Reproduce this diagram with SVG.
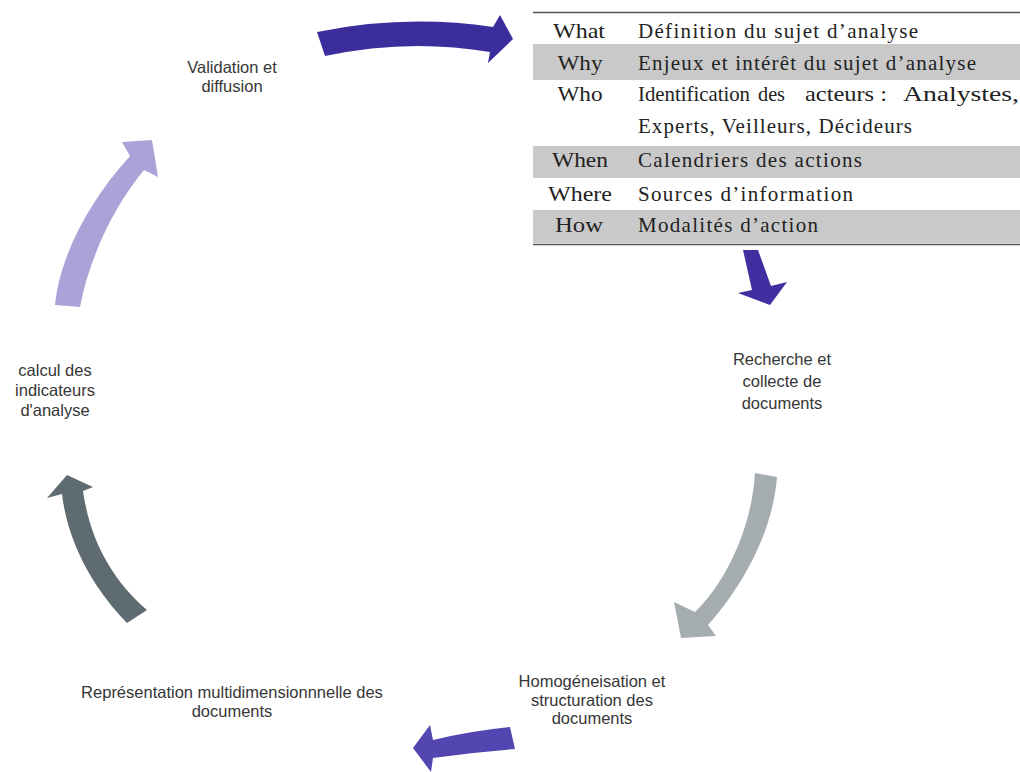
<svg xmlns="http://www.w3.org/2000/svg" width="1020" height="772" viewBox="0 0 1020 772">
<style>
.tbl{font-family:"Liberation Serif",serif;font-size:21px;fill:#222}
.lbl{font-family:"Liberation Sans",Arial,sans-serif;font-size:16.5px;fill:#363636;text-anchor:middle}
.band{fill:#c9c9c9}
.rule{stroke:#555;stroke-width:1.5}
</style>
<rect width="1020" height="772" fill="#ffffff"/>
<g id="table">
<line class="rule" x1="533" y1="12.5" x2="1020" y2="12.5"/>
<rect class="band" x="533" y="44" width="487" height="36"/>
<rect class="band" x="533" y="146" width="487" height="32"/>
<rect class="band" x="533" y="210" width="487" height="33"/>
<line class="rule" x1="533" y1="244.5" x2="1020" y2="244.5"/>
<text class="tbl" x="579" y="38" text-anchor="middle" textLength="52" lengthAdjust="spacingAndGlyphs">What</text>
<text class="tbl" x="638" y="38" textLength="280">Définition du sujet d’analyse</text>
<text class="tbl" x="580" y="70" text-anchor="middle" textLength="45" lengthAdjust="spacingAndGlyphs">Why</text>
<text class="tbl" x="638" y="70" textLength="338">Enjeux et intérêt du sujet d’analyse</text>
<text class="tbl" x="580" y="101" text-anchor="middle" textLength="45" lengthAdjust="spacingAndGlyphs">Who</text>
<text class="tbl" x="638" y="101" textLength="112" lengthAdjust="spacingAndGlyphs">Identification</text>
<text class="tbl" x="758" y="101" textLength="27" lengthAdjust="spacingAndGlyphs">des</text>
<text class="tbl" x="805" y="101" textLength="82" lengthAdjust="spacingAndGlyphs">acteurs :</text>
<text class="tbl" x="903" y="101" textLength="116" lengthAdjust="spacingAndGlyphs">Analystes,</text>
<text class="tbl" x="638" y="133" textLength="274">Experts, Veilleurs, Décideurs</text>
<text class="tbl" x="580" y="167" text-anchor="middle" textLength="56" lengthAdjust="spacingAndGlyphs">When</text>
<text class="tbl" x="638" y="167" textLength="224">Calendriers des actions</text>
<text class="tbl" x="580" y="201" text-anchor="middle" textLength="64" lengthAdjust="spacingAndGlyphs">Where</text>
<text class="tbl" x="638" y="201" textLength="215">Sources d’information</text>
<text class="tbl" x="579" y="232" text-anchor="middle" textLength="48" lengthAdjust="spacingAndGlyphs">How</text>
<text class="tbl" x="638" y="232" textLength="180">Modalités d’action</text>
</g>
<g id="connectors">
<path d="M317,32 Q405,14 493,27 L500,15 L513,39 L488,63 L490,52 Q408,38 325,56 Z" fill="#3c2d9c"/>
<path d="M743,250 L758,250 L771,286 L787,282 L770,305 L738,293 L752,290 Z" fill="#3f2fa0"/>
<path d="M755,473 C752,525 728,580 695,612 L674,602 L681,638 L716,636 L708,625 C735,595 772,540 777,477 Z" fill="#a6adb1"/>
<path d="M510,727 L515,749 Q475,752 433,758 L431,772 L413,748 L430,725 L433,740 Q470,731 510,727 Z" fill="#5446b0"/>
<path d="M67,475 L93,487 L83,491 C90,540 112,580 147,610 L127,623 C95,590 68,545 62,494 L47,498 Z" fill="#5e6b71"/>
<path d="M55,305 C60,255 90,200 130,156 L122,142 L152,140 L158,177 L144,170 C115,205 90,255 80,307 Z" fill="#aaa3d8"/>
</g>
<g id="node-validation">
<text class="lbl" x="232" y="73">Validation et</text>
<text class="lbl" x="232" y="92">diffusion</text>
</g>
<g id="node-recherche">
<text class="lbl" x="782" y="365">Recherche et</text>
<text class="lbl" x="782" y="387">collecte de</text>
<text class="lbl" x="782" y="409">documents</text>
</g>
<g id="node-homogeneisation">
<text class="lbl" x="592" y="687">Homogéneisation et</text>
<text class="lbl" x="592" y="705.5">structuration des</text>
<text class="lbl" x="592" y="724">documents</text>
</g>
<g id="node-representation">
<text class="lbl" x="232" y="698">Représentation multidimensionnnelle des</text>
<text class="lbl" x="232" y="717">documents</text>
</g>
<g id="node-calcul">
<text class="lbl" x="55" y="376">calcul des</text>
<text class="lbl" x="55" y="396">indicateurs</text>
<text class="lbl" x="55" y="416">d'analyse</text>
</g>
</svg>
